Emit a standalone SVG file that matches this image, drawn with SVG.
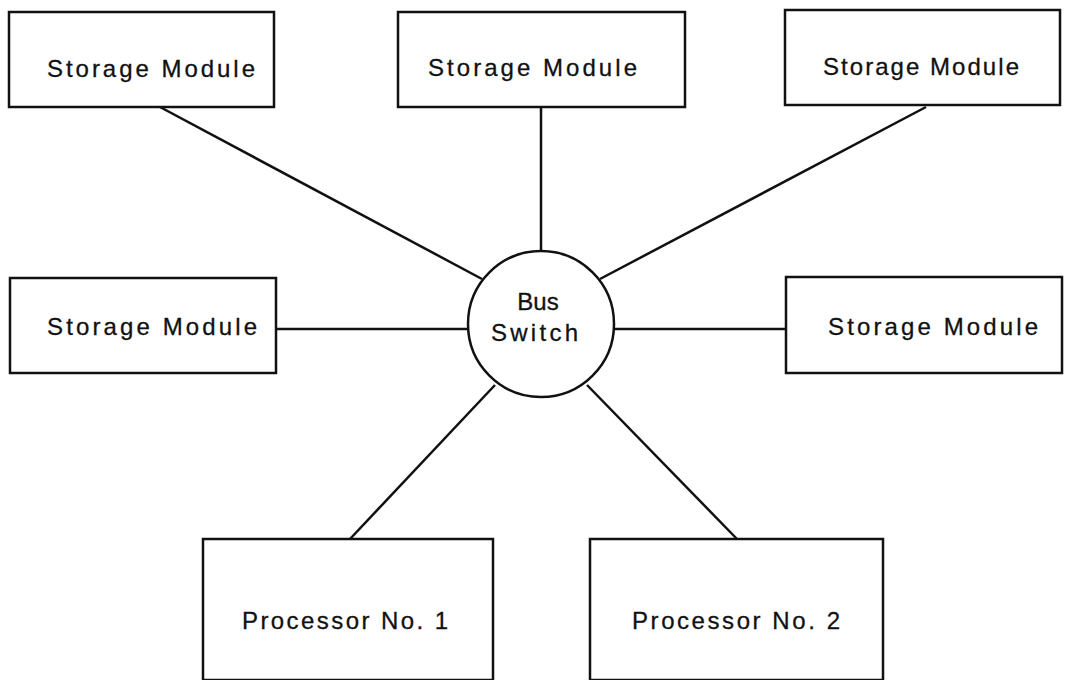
<svg xmlns="http://www.w3.org/2000/svg" width="1072" height="680" viewBox="0 0 1072 680">
  <style>
    .box { fill: #ffffff; stroke: #111111; stroke-width: 2.5; }
    .hub { fill: #ffffff; stroke: #111111; stroke-width: 2.5; }
    .wire { stroke: #111111; stroke-width: 2.5; fill: none; }
    .label { font-family: "Liberation Sans", Arial, sans-serif; font-size: 24px; fill: #111111; stroke: #111111; stroke-width: 0.3; }
  </style>
  <rect x="0" y="0" width="1072" height="680" fill="#ffffff"/>

  <!-- connectors from the bus switch to each module -->
  <g id="connectors">
    <line class="wire" x1="160" y1="107" x2="482" y2="279"/>
    <line class="wire" x1="541" y1="107" x2="541" y2="251"/>
    <line class="wire" x1="926" y1="107" x2="600" y2="279"/>
    <line class="wire" x1="276" y1="329" x2="468" y2="329"/>
    <line class="wire" x1="615" y1="329" x2="786" y2="329"/>
    <line class="wire" x1="495" y1="385" x2="350" y2="539"/>
    <line class="wire" x1="587" y1="385" x2="737" y2="539"/>
  </g>

  <g id="storage-top-left">
    <rect class="box" x="9" y="12" width="265" height="95"/>
    <text class="label" x="47" y="77" textLength="208" lengthAdjust="spacing">Storage Module</text>
  </g>
  <g id="storage-top-center">
    <rect class="box" x="398" y="12" width="287" height="95"/>
    <text class="label" x="428" y="76" textLength="209" lengthAdjust="spacing">Storage Module</text>
  </g>
  <g id="storage-top-right">
    <rect class="box" x="785" y="10" width="275" height="95"/>
    <text class="label" x="823" y="75" textLength="196" lengthAdjust="spacing">Storage Module</text>
  </g>
  <g id="storage-mid-left">
    <rect class="box" x="10" y="278" width="266" height="95"/>
    <text class="label" x="47" y="335" textLength="210" lengthAdjust="spacing">Storage Module</text>
  </g>
  <g id="storage-mid-right">
    <rect class="box" x="786" y="277" width="276" height="96"/>
    <text class="label" x="828" y="335" textLength="210" lengthAdjust="spacing">Storage Module</text>
  </g>

  <g id="bus-switch">
    <circle class="hub" cx="541" cy="324" r="73"/>
    <text class="label" x="538" y="310" text-anchor="middle">Bus</text>
    <text class="label" x="491" y="341" textLength="87" lengthAdjust="spacing">Switch</text>
  </g>

  <g id="processor-1">
    <rect class="box" x="203" y="539" width="290" height="141"/>
    <text class="label" x="242" y="629" textLength="206" lengthAdjust="spacing">Processor No. 1</text>
  </g>
  <g id="processor-2">
    <rect class="box" x="590" y="539" width="293" height="141"/>
    <text class="label" x="632" y="629" textLength="208" lengthAdjust="spacing">Processor No. 2</text>
  </g>
</svg>
